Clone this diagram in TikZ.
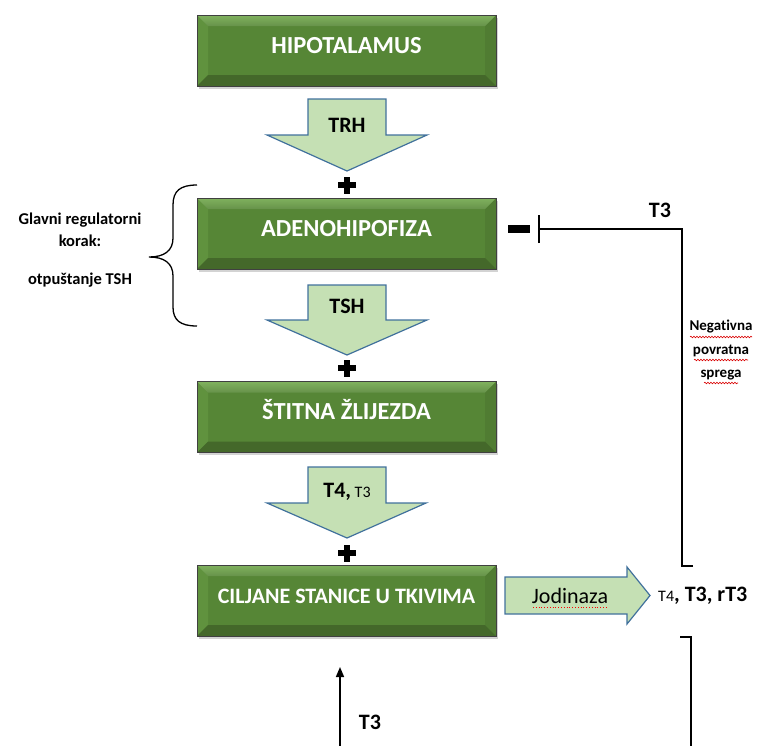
\documentclass[tikz,border=0pt]{standalone}
\usepackage{fontspec}
\setmainfont{Carlito}[Ligatures={NoCommon}]
\usetikzlibrary{arrows.meta,shadows,decorations.pathmorphing}

\definecolor{organgreen}{RGB}{86,134,54}
\definecolor{bevlight}{RGB}{128,178,94}
\definecolor{bevleft}{RGB}{96,146,62}
\definecolor{bevright}{RGB}{80,124,50}
\definecolor{bevdark}{RGB}{68,104,42}
\definecolor{hormfill}{RGB}{197,224,180}
\definecolor{hormline}{RGB}{65,113,156}

\tikzset{
  organ/.style={draw=black!75, line width=0.8pt, fill=organgreen,
    minimum width=299pt, minimum height=71pt, inner sep=0pt,
    text=white, font=\bfseries\fontsize{24.5}{28}\selectfont,
    text height=14pt, text depth=9pt,
    drop shadow={opacity=0.35, shadow xshift=1.5pt, shadow yshift=-2.5pt},
    path picture={
      \fill[bevleft] (path picture bounding box.north west) -- ++(11pt,-11pt)
        -- ([shift={(11pt,11pt)}]path picture bounding box.south west)
        -- (path picture bounding box.south west) -- cycle;
      \fill[bevright] (path picture bounding box.north east) -- ++(-11pt,-11pt)
        -- ([shift={(-11pt,11pt)}]path picture bounding box.south east)
        -- (path picture bounding box.south east) -- cycle;
      \fill[bevdark] (path picture bounding box.south west) -- ++(11pt,11pt)
        -- ([shift={(-11pt,11pt)}]path picture bounding box.south east)
        -- (path picture bounding box.south east) -- cycle;
      \shade[top color=bevlight, bottom color=organgreen!90!white]
        (path picture bounding box.north west) -- ++(11pt,-11pt)
        -- ([shift={(-11pt,-11pt)}]path picture bounding box.north east)
        -- (path picture bounding box.north east) -- cycle;
    }},
  horm/.style={fill=hormfill, draw=hormline, line width=1.2pt, line join=miter},
  hormlabel/.style={font=\bfseries\fontsize{22}{26}\selectfont, inner sep=0pt},
  plusmark/.style={line width=5.5pt},
  feedback/.style={line width=1.8pt},
  sidetext/.style={font=\bfseries\fontsize{16.5}{20}\selectfont, inner sep=0pt},
  spellmark/.style={red!85!black, line width=0.6pt, decorate,
    decoration={snake, amplitude=0.8pt, segment length=3pt}}
}

\begin{document}
\begin{tikzpicture}[x=1pt,y=-1pt]
\useasboundingbox (0,0) rectangle (765,745);

% organs
\node[organ] (hipo) at (346.5,50.5) {HIPOTALAMUS};
\node[organ] (adeno) at (346.5,233.5) {ADENOHIPOFIZA};
\node[organ] (stitna) at (346.5,417) {ŠTITNA ŽLIJEZDA};
\node[organ, font=\bfseries\fontsize{22}{26}\selectfont] (tkivo) at (346.5,600.5) {CILJANE STANICE U TKIVIMA};

% hormone arrows
\draw[horm] (308,99) -- (386,99) -- (386,135) -- (427,135) -- (347,171) -- (267,135) -- (308,135) -- cycle;
\node[hormlabel] (trh) at (347,125) {TRH};
\draw[horm] (308,285) -- (386,285) -- (386,320) -- (427,320) -- (347,355) -- (267,320) -- (308,320) -- cycle;
\node[hormlabel] (tsh) at (347,306) {TSH};
\draw[horm] (308,467) -- (386,467) -- (386,503) -- (426,503) -- (347,538) -- (267,503) -- (308,503) -- cycle;
\node[hormlabel] (t4) at (347,492) {T4,\fontsize{16}{20}\selectfont\mdseries{} T3};

% plus signs
\draw[plusmark] (338,185) -- (356,185) (347,177) -- (347,194);
\draw[plusmark] (338,368) -- (356,368) (347,360) -- (347,377);
\draw[plusmark] (338,553) -- (356,553) (347,545) -- (347,562);

% jodinaza
\draw[horm] (505,577) -- (627,577) -- (627,567) -- (650,595.5) -- (627,624) -- (627,614) -- (505,614) -- cycle;
\node[font=\fontsize{22}{26}\selectfont, inner sep=0pt] (jod) at (570,596) {Jodinaza};
\draw[red, line width=0.8pt, dotted] (533,607) -- (608,607);
\node[hormlabel, anchor=west] (prod) at (658,596) {{\fontsize{16}{20}\selectfont\mdseries T4}, T3, rT3};

% negative feedback
\coordinate (fbend) at (538,229);
\coordinate (fbtop) at (682,229);
\coordinate (fbfoot) at (682,566);
\coordinate (fbstart) at (693,566);
\draw[feedback, -{Bar[width=28pt]}, line join=miter] (fbstart) -- (fbfoot) -- (fbtop) -- (fbend);
\fill (508,224.5) rectangle (530,232.5);
\node[hormlabel] (fbt3) at (660,210) {T3};
\node[sidetext, font=\bfseries\fontsize{15}{19}\selectfont, align=center] (fbtext) at (721,350)
  {Negativna\\[4.5pt]povratna\\[4.5pt]sprega};
\draw[spellmark] (690,337) -- (752,337);
\draw[spellmark] (694,360) -- (748,360);
\draw[spellmark] (704,383) -- (738,383);

% lower part
\coordinate (loopin) at (680,637);
\coordinate (loopcorner) at (691,637);
\coordinate (loopend) at (691,746);
\draw[feedback, line join=miter] (loopin) -- (loopcorner) -- (loopend);
\coordinate (upstart) at (340,746);
\coordinate (upend) at (340,667);
\draw[line width=1.6pt, -{Triangle[length=10pt,width=8pt]}] (upstart) -- (upend);
\node[hormlabel] (upt3) at (370,722) {T3};

% regulatory step
\draw[line width=1.3pt] (197,185) .. controls (180,185) and (173,191) .. (173,205) -- (173,238)
  .. controls (173,251) and (164,257) .. (149,257)
  .. controls (164,257) and (173,263) .. (173,276) -- (173,307)
  .. controls (173,320) and (180,326) .. (197,326);
\node[sidetext] (glavni) at (80,220) {Glavni regulatorni};
\node[sidetext] (korak) at (80,241) {korak:};
\node[sidetext] (otpust) at (80,280) {otpuštanje TSH};
\end{tikzpicture}
\end{document}
